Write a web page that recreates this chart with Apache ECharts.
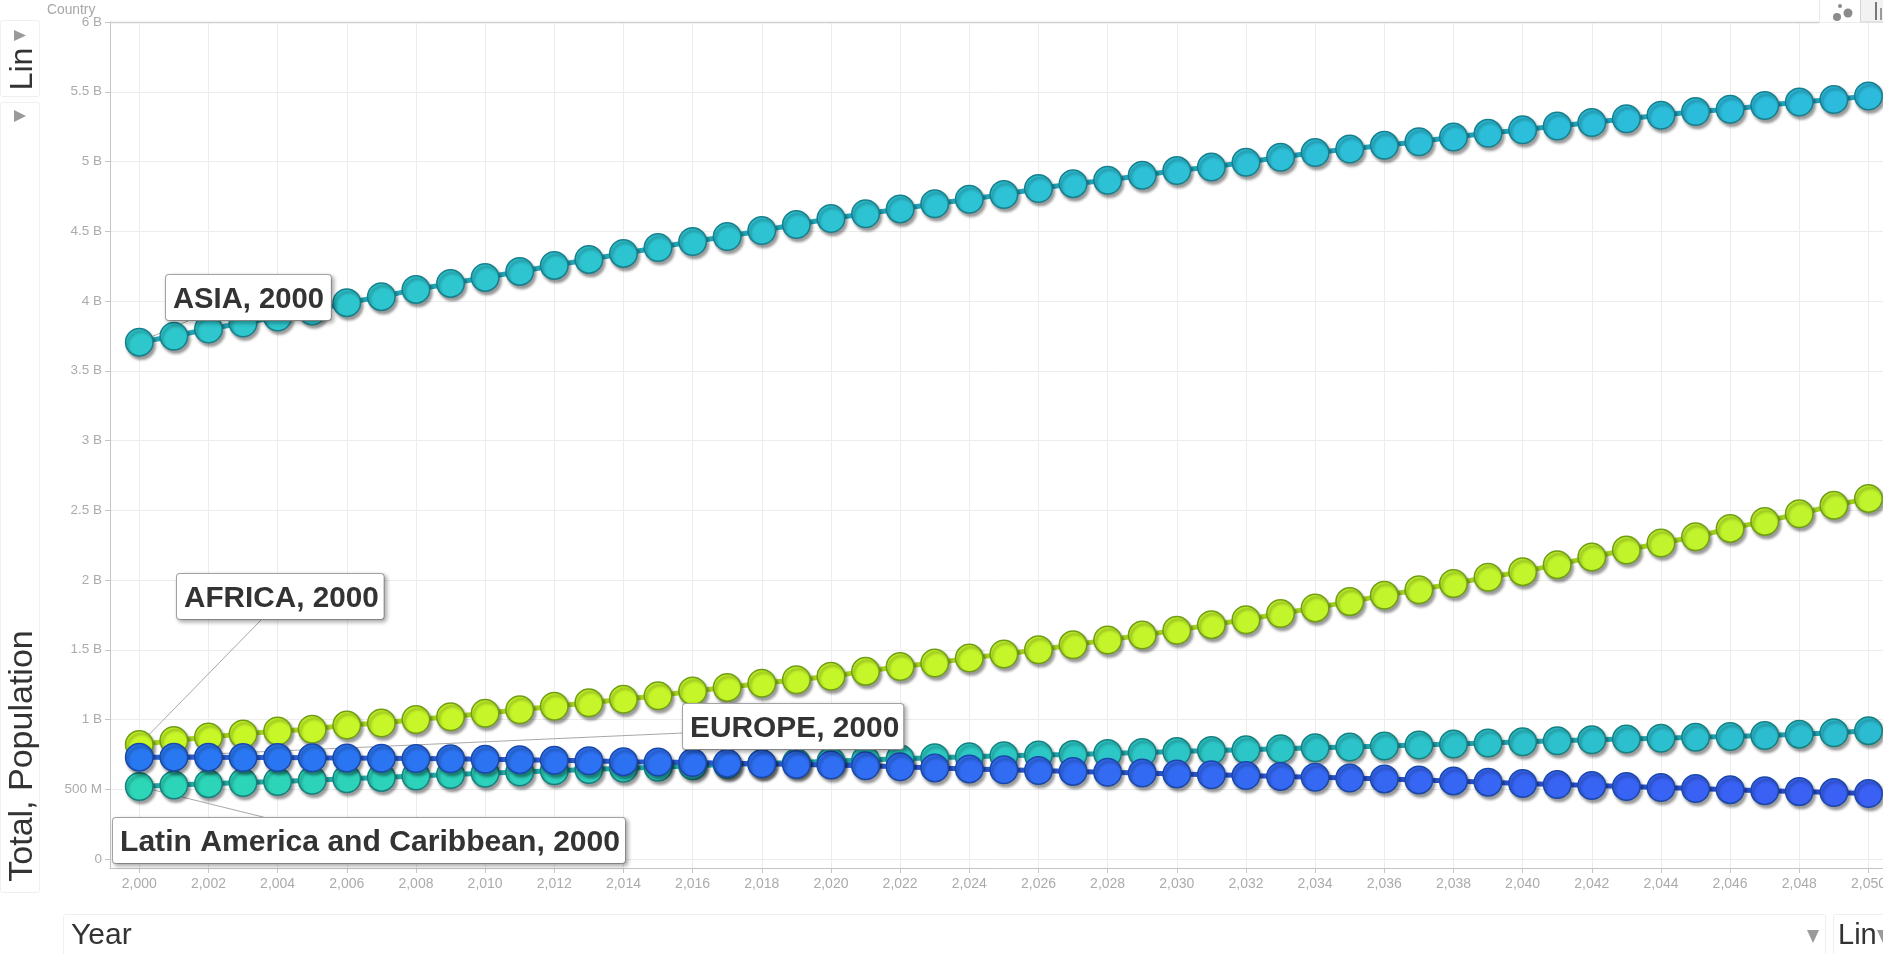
<!DOCTYPE html>
<html><head><meta charset="utf-8">
<style>html,body{margin:0;padding:0;background:#fff;overflow:hidden}#c{width:1883px;height:954px}</style>
<script src="https://cdn.jsdelivr.net/npm/echarts@6/dist/echarts.min.js"></script>
</head><body><div id="c"></div>
<script>
const years=[2000,2001,2002,2003,2004,2005,2006,2007,2008,2009,2010,2011,2012,2013,2014,2015,2016,2017,2018,2019,2020,2021,2022,2023,2024,2025,2026,2027,2028,2029,2030,2031,2032,2033,2034,2035,2036,2037,2038,2039,2040,2041,2042,2043,2044,2045,2046,2047,2048,2049,2050];
const asia=[3.705,3.747,3.799,3.842,3.885,3.928,3.988,4.031,4.083,4.126,4.169,4.212,4.255,4.298,4.341,4.384,4.427,4.462,4.505,4.548,4.591,4.625,4.660,4.697,4.729,4.763,4.806,4.841,4.866,4.901,4.935,4.961,4.995,5.030,5.064,5.090,5.116,5.142,5.176,5.202,5.228,5.254,5.280,5.306,5.332,5.358,5.375,5.401,5.427,5.444,5.470];
const africa=[0.82,0.85,0.875,0.896,0.918,0.93,0.96,0.975,1.0,1.02,1.045,1.07,1.095,1.12,1.145,1.17,1.205,1.23,1.26,1.285,1.31,1.345,1.38,1.405,1.44,1.47,1.50,1.535,1.57,1.605,1.64,1.68,1.715,1.76,1.80,1.845,1.89,1.93,1.975,2.02,2.06,2.11,2.165,2.215,2.265,2.31,2.37,2.42,2.475,2.535,2.585];
const latin=[0.52,0.53,0.54,0.548,0.556,0.565,0.575,0.585,0.595,0.605,0.615,0.624,0.633,0.642,0.65,0.658,0.668,0.677,0.685,0.692,0.70,0.71,0.718,0.726,0.733,0.74,0.745,0.75,0.757,0.763,0.77,0.777,0.784,0.79,0.797,0.803,0.81,0.817,0.824,0.832,0.84,0.848,0.854,0.86,0.866,0.872,0.878,0.885,0.895,0.905,0.92];
const europe=[0.73,0.73,0.73,0.728,0.727,0.725,0.724,0.722,0.72,0.718,0.715,0.712,0.708,0.704,0.698,0.695,0.691,0.687,0.683,0.678,0.674,0.668,0.661,0.653,0.646,0.64,0.634,0.628,0.622,0.616,0.61,0.604,0.598,0.592,0.586,0.58,0.574,0.567,0.56,0.551,0.541,0.534,0.527,0.52,0.513,0.505,0.497,0.49,0.483,0.476,0.469];
const xTicks=[2000,2002,2004,2006,2008,2010,2012,2014,2016,2018,2020,2022,2024,2026,2028,2030,2032,2034,2036,2038,2040,2042,2044,2046,2048,2050];
const yTicks=[0,0.5,1,1.5,2,2.5,3,3.5,4,4.5,5,5.5,6];
const yTickLabels=['0','500 M','1 B','1.5 B','2 B','2.5 B','3 B','3.5 B','4 B','4.5 B','5 B','5.5 B','6 B'];

const FONT='"Liberation Sans",Arial,sans-serif';
function hex(c){return [1,3,5].map(i=>parseInt(c.substr(i,2),16));}
function mix(a,b,t){const A=hex(a),B=hex(b);return 'rgb('+A.map((v,i)=>Math.round(v+(B[i]-v)*t)).join(',')+')';}
function mk(name,vals,c0,c1,border,line0,line1,label){
  return {
    name,type:'line',z:2,data:vals.map((v,i)=>{
      const d={value:[years[i],v]};
      if(i===0){d.label={show:true,formatter:label.text,fontFamily:FONT,fontWeight:'bold',fontSize:label.size,lineHeight:31,color:'#333',
        backgroundColor:'#fff',borderColor:'#a8a8a8',borderWidth:1,borderRadius:3,padding:[9,label.pr,5,7],
        shadowColor:'rgba(0,0,0,0.3)',shadowBlur:4,shadowOffsetX:2,shadowOffsetY:2};}
      return d;}),
    symbol:'circle',symbolSize:27.5,showSymbol:true,clip:false,
    lineStyle:{width:5,color:new echarts.graphic.LinearGradient(0,0,1,0,[{offset:0,color:line0},{offset:1,color:line1}])},
    itemStyle:{color:p=>mix(c0,c1,p.dataIndex/50),borderColor:border,borderWidth:1.5,opacity:1,
      shadowColor:'rgba(0,0,0,0.38)',shadowBlur:3,shadowOffsetX:2,shadowOffsetY:3},
    labelLayout:p=>p.dataIndex===0?{x:label.x,y:label.y,align:'left',verticalAlign:'top',hideOverlap:false,moveOverlap:false}:{},
    markLine:{silent:true,z:1,symbol:'none',animation:false,label:{show:false},lineStyle:{color:'#a8a8a8',width:1,type:'solid'},
      data:[[{coord:[years[0],vals[0]]},{x:label.lx,y:label.ly}]]},
    emphasis:{disabled:true},silent:true
  };
}
const G=[];
const panel=(x,y,w,h)=>G.push({type:'rect',silent:true,z:0,shape:{x,y,width:w,height:h,r:2},style:{fill:'#fff',stroke:'#efefef',lineWidth:1}});
const txt=(x,y,text,size,color,rot,ta,tb)=>G.push({type:'text',silent:true,z:5,x,y,rotation:rot||0,style:{text,font:size+'px '+FONT,fill:color,textAlign:ta||'left',textVerticalAlign:tb||'middle'}});
const tri=(pts)=>G.push({type:'polygon',silent:true,z:5,shape:{points:pts},style:{fill:'#9a9a9a'}});
panel(0.5,20.5,39,76);panel(0.5,102.5,39,790);panel(63.5,914.5,1762,45);panel(1833.5,914.5,60,45);
txt(23,69,'Lin',32,'#333',Math.PI/2,'center');
tri([[14,30],[14,41],[26,35.5]]);tri([[14,110],[14,122],[26,116]]);
txt(23,756,'Total, Population',34,'#333',Math.PI/2,'center');
txt(71,936,'Year',30,'#333');
txt(1838,936,'Lin',29,'#333');
tri([[1807,930],[1819,930],[1813,943]]);tri([[1877,930],[1889,930],[1883,943]]);
txt(47,10,'Country',13.8,'#a6a6a6');
G.push({type:'line',silent:true,z:1,shape:{x1:110,y1:22.5,x2:1819,y2:22.5},style:{stroke:'#cfcfcf',lineWidth:1.5}});
G.push({type:'line',silent:true,z:1,shape:{x1:1819.5,y1:0,x2:1819.5,y2:22},style:{stroke:'#e8e8e8',lineWidth:1}});
[[1837,17,4],[1848,13,4.5],[1840,6,2]].forEach(a=>G.push({type:'circle',silent:true,z:5,shape:{cx:a[0],cy:a[1],r:a[2]},style:{fill:'#8c8c8c'}}));
G.push({type:'rect',silent:true,z:1,shape:{x:1860.5,y:-2,width:30,height:24},style:{fill:'#f2f2f2',stroke:'#d5d5d5'}});
G.push({type:'rect',silent:true,z:5,shape:{x:1875,y:2,width:2,height:18},style:{fill:'#777'}});
G.push({type:'rect',silent:true,z:5,shape:{x:1880,y:8,width:2,height:12},style:{fill:'#999'}});

const chart=echarts.init(document.getElementById('c'),null,{renderer:'canvas'});
chart.setOption({
  animation:false,backgroundColor:'#fff',
  grid:{left:110,right:0,top:22,bottom:86,containLabel:false,outerBoundsMode:'none'},
  xAxis:{type:'value',min:1999.153,max:2050.42,
    axisLine:{show:true,onZero:false,lineStyle:{color:'#c4c4c4',width:1}},
    axisTick:{show:true,customValues:xTicks,length:5,lineStyle:{color:'#c4c4c4'}},
    axisLabel:{customValues:xTicks,margin:9,color:'#ababab',fontFamily:FONT,fontSize:14,hideOverlap:false,showMinLabel:true,showMaxLabel:true,
      formatter:v=>v.toLocaleString('en-US')},
    splitLine:{show:true,lineStyle:{color:'#ececec',width:1}}},
  yAxis:{type:'value',min:-0.0645,max:6,
    axisLine:{show:true,onZero:false,lineStyle:{color:'#c4c4c4',width:1}},
    axisTick:{show:true,customValues:yTicks,length:5,lineStyle:{color:'#c4c4c4'}},
    axisLabel:{customValues:yTicks,margin:8,color:'#ababab',fontFamily:FONT,fontSize:13.5,showMinLabel:true,showMaxLabel:true,
      formatter:v=>yTickLabels[yTicks.indexOf(v)]},
    splitLine:{show:true,lineStyle:{color:'#ececec',width:1}}},
  series:[
    mk('ASIA',asia,'#2ec8cc','#2cbbdd','#177f8c','#22a6b4','#20a4c0',{text:'ASIA, 2000',x:166,y:275,size:29.2,pr:7,lx:190,ly:320}),
    mk('AFRICA',africa,'#c8f728','#c0f42c','#6f9e14','#a8d420','#a0d020',{text:'AFRICA, 2000',x:177,y:574,size:29.7,pr:5,lx:261,ly:620}),
    mk('Latin America and Caribbean',latin,'#2cd6b6','#2cbcd2','#15807e','#22aca4','#20a4b8',{text:'Latin America and Caribbean, 2000',x:113,y:818,size:30.1,pr:5,lx:267,ly:818}),
    mk('EUROPE',europe,'#2878f2','#3b60f4','#1a48a8','#2a62d8','#2a4cd0',{text:'EUROPE, 2000',x:683,y:704,size:29.9,pr:4,lx:683,ly:733})
  ],
  graphic:G
});
</script></body></html>
